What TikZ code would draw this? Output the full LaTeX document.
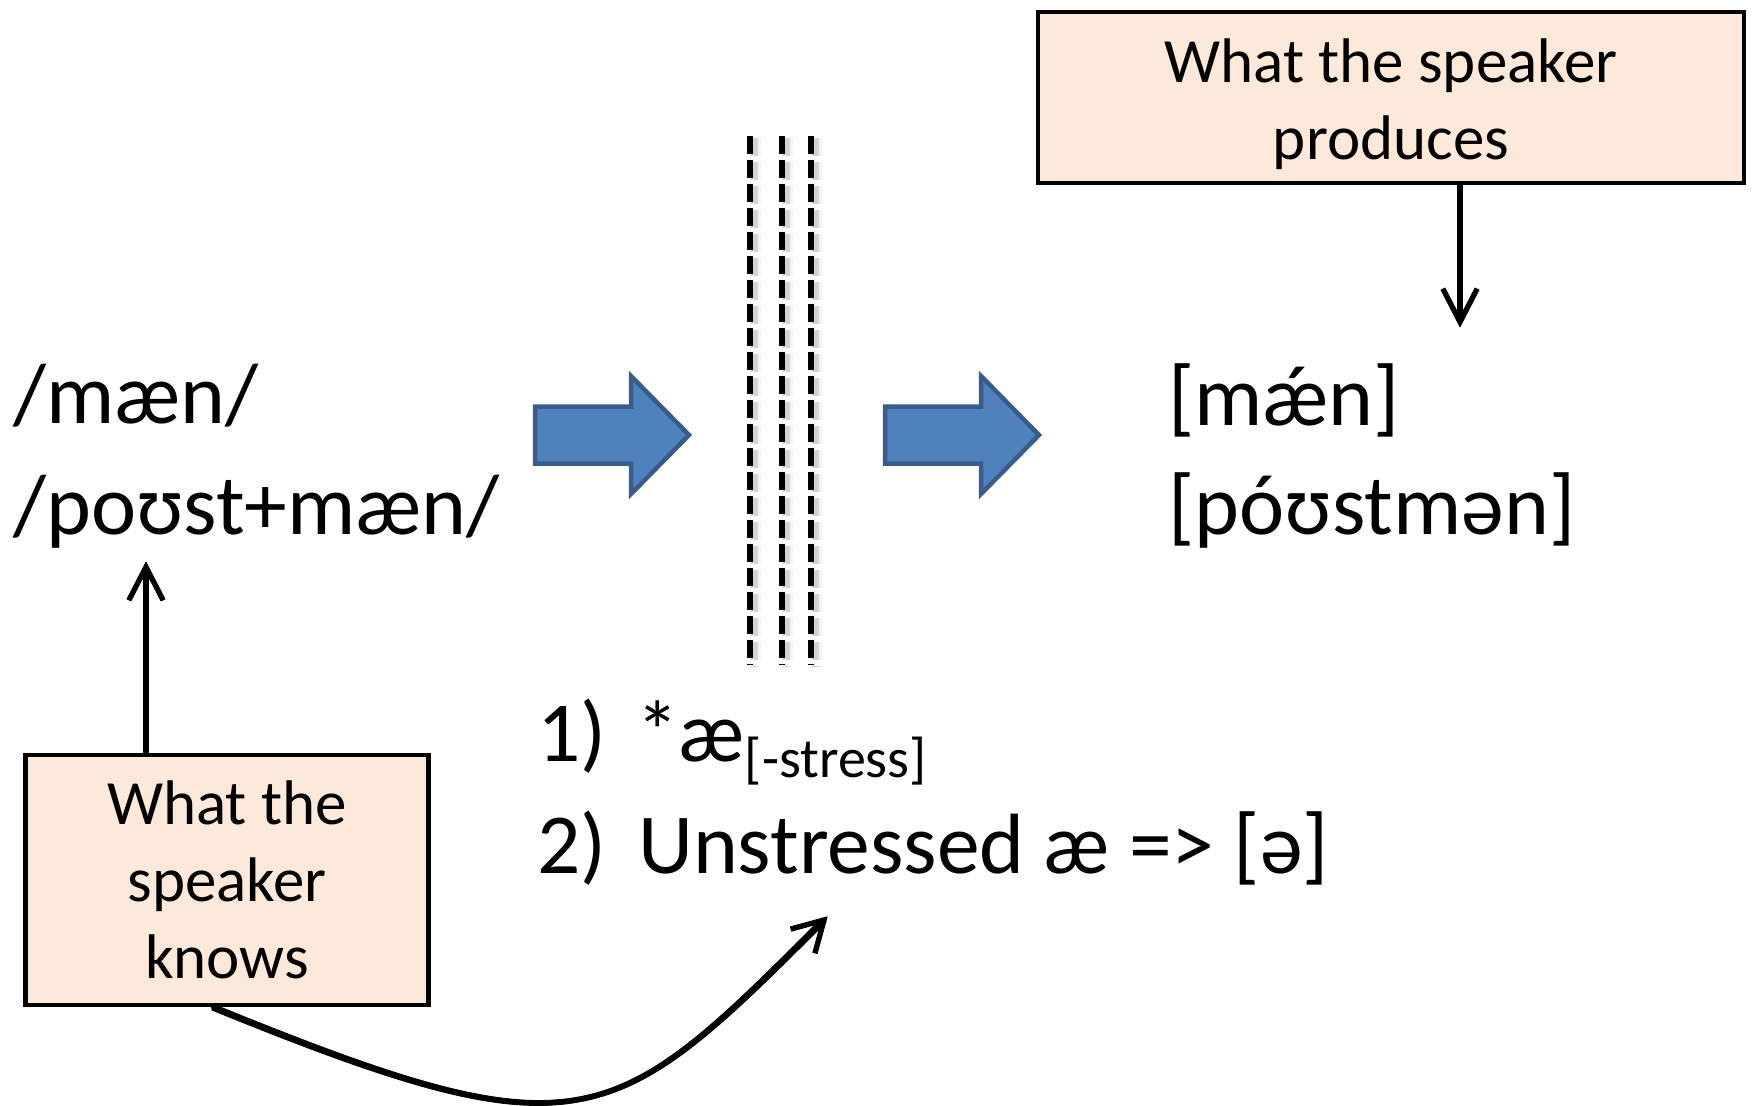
\documentclass[tikz,border=0pt]{standalone}
\usepackage{fontspec}
\setmainfont{Carlito}
\usetikzlibrary{calc}
\definecolor{boxfill}{HTML}{FDE9D9}
\definecolor{arrfill}{HTML}{4F81BD}
\definecolor{arrline}{HTML}{385D8A}
\tikzset{
  big/.style={inner sep=0pt, anchor=base west, font=\fontsize{85.5}{100}\selectfont},
  notebox/.style={draw=black, line width=4.5pt, fill=boxfill, align=center,
    inner sep=0pt, font=\fontsize{63}{77}\selectfont},
  boxtext/.style={align=center, inner sep=0pt, font=\fontsize{63}{77}\selectfont},
  linkline/.style={draw=black, line width=4.5pt, line cap=round, line join=round},
  linkbody/.style={fill=black, draw=black, line width=0.8pt, line join=round},
  blockarrow/.style={draw=arrline, fill=arrfill, line width=4.5pt, line join=miter},
  barrier/.style={line width=5.5pt, dash pattern=on 18pt off 6pt},
  barriershade/.style={line width=7pt, dash pattern=on 18pt off 6pt,
    draw=black!60, opacity=0.22},
}
% thick right-pointing block arrow with its tail's left edge at #1
\newcommand\bluearrow[1]{%
  \draw[blockarrow, shift={(#1,0)}]
    (0,406.5) -- (96,406.5) -- (96,376) -- (154,435) -- (96,494)
    -- (96,463.5) -- (0,463.5) -- cycle;}
\begin{document}
\begin{tikzpicture}[x=1pt, y=-1pt]
  \fill[white] (0,0) rectangle (1752,1105);
  \useasboundingbox (0,0) rectangle (1752,1105);

  % underlying forms
  \node[big] (uf1) at (13,423) {/mæn/};
  \node[big] (uf2) at (13,534) {/poʊst+mæn/};

  % surface forms
  \node[big] (sf1) at (1168,425) {[mǽn]};
  \node[big] (sf2) at (1168,534) {[póʊstmən]};

  % derivation arrows
  \bluearrow{535}
  \bluearrow{885}

  % triple dashed barrier with soft shadow
  \foreach \xx in {750,782,811} {
    \draw[barriershade] (\xx+4,138) -- (\xx+4,667);
    \draw[barriershade, line width=11pt, opacity=0.08] (\xx+5,138) -- (\xx+5,667);
    \draw[barrier] (\xx,136) -- (\xx,665);
  }

  % the rules
  \node[big] (r1n) at (537,761) {1)};
  \node[big] (r1) at (636,761) {*æ\raisebox{-16pt}{\fontsize{56}{60}\selectfont[-stress]}};
  \node[big] (r2n) at (537,873) {2)};
  \node[big] (r2) at (638,873) {Unstressed æ => [ə]};

  % labels
  \node[notebox, minimum width=706pt, minimum height=171pt] (prod) at (1391,97.5) {};
  \node[boxtext] (prodtext) at (1391,104) {What the speaker\\produces};
  \node[notebox, minimum width=403pt, minimum height=250pt] (knows)
    at (227,880) {What the\\speaker\\knows};

  % connector ends
  \coordinate (ufin) at (146,567);
  \coordinate (sfin) at (1460,322);
  \coordinate (rulein) at (824,920);
  \coordinate (knowsfoot) at (knows.south -| 213,0);

  % connectors: centre lines
  \draw[linkline] (knows.north -| ufin) -- (ufin);
  \draw[linkline] (prod.south -| sfin) -- (sfin);
  \draw[linkline] (knowsfoot) .. controls (583,1158) and (612,1132) .. (rulein);

  % connectors: solid bodies of the shafts
  \fill[linkbody] ($(knows.north -| ufin)+(-2.25,0)$) rectangle ($(ufin)+(2.25,4)$);
  \fill[linkbody] ($(prod.south -| sfin)+(-2.25,0)$) rectangle ($(sfin)+(2.25,-4)$);
  \fill[linkbody] ($(knowsfoot)+(-1.14,2.78)$)
      .. controls (581.86,1160.78) and (614.12,1134.12) .. ($(rulein)+(2.12,2.12)$)
    -- ($(rulein)+(-2.12,-2.12)$)
      .. controls (609.88,1129.88) and (584.14,1155.22) .. ($(knowsfoot)+(1.14,-2.78)$)
    -- cycle;

  % connectors: open V heads
  \fill[linkbody] ($(ufin)+(0,-4.9)$) -- ($(ufin)+(19,32)$) -- ($(ufin)+(15,34)$)
    -- ($(ufin)+(0,4.9)$) -- ($(ufin)+(-15,34)$) -- ($(ufin)+(-19,32)$) -- cycle;
  \fill[linkbody] ($(sfin)+(0,4.9)$) -- ($(sfin)+(19,-32)$) -- ($(sfin)+(15,-34)$)
    -- ($(sfin)+(0,-4.9)$) -- ($(sfin)+(-15,-34)$) -- ($(sfin)+(-19,-32)$) -- cycle;
  \fill[linkbody] ($(rulein)+(3.2,-3.2)$) -- ($(rulein)+(-33.6,6.8)$)
    -- ($(rulein)+(-32.4,11.2)$) -- ($(rulein)+(-3.2,3.2)$)
    -- ($(rulein)+(-11.2,32.4)$) -- ($(rulein)+(-6.8,33.6)$) -- cycle;
\end{tikzpicture}
\end{document}
